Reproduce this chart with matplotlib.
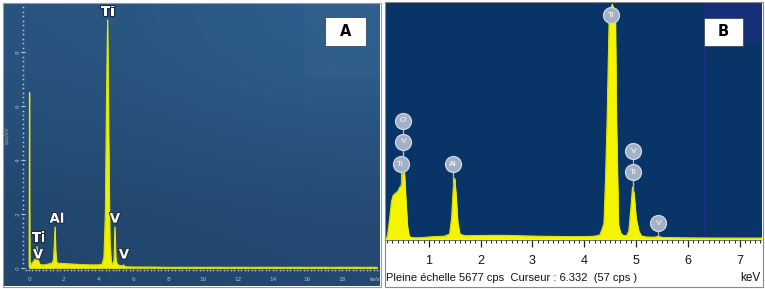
import numpy as np
import matplotlib
matplotlib.use('Agg')
import matplotlib.pyplot as plt
import matplotlib.patheffects as pe
from matplotlib.patches import Rectangle

# ---------------- data ----------------
# Panel A: EDS spectrum (keV, cps/eV x1000)
energy_a = [0.00, 0.02, 0.04, 0.06, 0.10, 0.20, 0.30, 0.38, 0.42, 0.45, 0.48, 0.52, 0.60, 0.70,
            0.90, 1.10, 1.30, 1.40, 1.45, 1.49, 1.53, 1.58, 1.70, 2.00, 2.50, 3.00, 3.50, 4.00,
            4.20, 4.30, 4.38, 4.45, 4.51, 4.57, 4.64, 4.72, 4.80, 4.88, 4.93, 4.98, 5.05, 5.20,
            5.38, 5.43, 5.48, 5.60, 6.00, 7.00, 8.00, 10.0, 12.0, 14.0, 16.0, 18.0, 20.0]
counts_a = [0.05, 6.5, 0.30, 0.10, 0.12, 0.20, 0.30, 0.35, 0.55, 0.80, 0.45, 0.30, 0.15, 0.12,
            0.12, 0.15, 0.18, 0.30, 0.90, 1.52, 0.60, 0.20, 0.18, 0.17, 0.15, 0.13, 0.12, 0.12,
            0.15, 0.40, 2.00, 6.50, 9.20, 5.00, 1.00, 0.20, 0.15, 0.30, 1.52, 0.40, 0.15, 0.10,
            0.08, 0.12, 0.06, 0.05, 0.04, 0.04, 0.03, 0.03, 0.03, 0.03, 0.03, 0.03, 0.03]
xticks_a = [0, 2, 4, 6, 8, 10, 12, 14, 16, 18]
yticks_a = [0, 2, 4, 6, 8]
labels_a_text = ['Ti', 'Al', 'V', 'Ti', 'V', 'V']
labels_a_x = [4.54, 1.61, 4.94, 0.57, 0.52, 5.46]
labels_a_y = [9.48, 1.81, 1.81, 1.11, 0.48, 0.48]

# Panel B: EDS spectrum (keV, cps)
energy_b = [0.17, 0.20, 0.24, 0.28, 0.31, 0.35, 0.40, 0.44, 0.47, 0.50, 0.53, 0.56, 0.59, 0.62,
            0.66, 0.75, 0.90, 1.10, 1.30, 1.40, 1.44, 1.47, 1.50, 1.53, 1.56, 1.60, 1.70, 1.90,
            2.20, 2.50, 2.80, 3.10, 3.40, 3.70, 4.00, 4.20, 4.30, 4.36, 4.38, 4.41, 4.44, 4.48,
            4.54, 4.60, 4.62, 4.66, 4.70, 4.76, 4.82, 4.86, 4.90, 4.93, 4.96, 5.00, 5.05, 5.10,
            5.20, 5.35, 5.43, 5.50, 5.70, 6.00, 6.30, 6.60, 7.00, 7.43]
counts_b = [30, 60, 450, 900, 1050, 1100, 1150, 1250, 1300, 1600, 1612, 900, 300, 80,
            40, 30, 40, 60, 70, 120, 500, 1200, 1467, 1000, 400, 120, 80, 85,
            90, 90, 80, 70, 65, 60, 60, 70, 100, 300, 400, 1500, 2900, 5400,
            5677, 5400, 2900, 350, 150, 80, 90, 200, 780, 1257, 1100, 500, 200, 80,
            50, 45, 70, 40, 35, 30, 28, 26, 25, 25]
xticks_b = [1, 2, 3, 4, 5, 6, 7]
labels_b_text = ['Ti', 'O', 'V', 'Ti', 'Al', 'V', 'Ti', 'V']
labels_b_x = [4.52, 0.51, 0.51, 0.46, 1.47, 4.95, 4.95, 5.43]
labels_b_y = [5410, 2850, 2343, 1811, 1811, 2125, 1618, 386]
cursor_b = 6.332
full_scale_b = 5677

# ---------------- figure ----------------
W, H = 765, 289
fig = plt.figure(figsize=(W / 100, H / 100), dpi=100)
fig.patch.set_facecolor('white')

def rect(x0, y0, x1, y1):
    return [x0 / W, 1 - y1 / H, (x1 - x0) / W, (y1 - y0) / H]

narrow = ['Liberation Sans Narrow', 'Liberation Sans', 'DejaVu Sans']

# ---------------- Panel A ----------------
axA = fig.add_axes(rect(4, 4, 380, 286))
xlA = (-1.437, 20.17)
ylA = (-0.667, 9.778)
grad = np.array([[[0.16, 0.33, 0.50], [0.18, 0.37, 0.55]],
                 [[0.13, 0.27, 0.42], [0.14, 0.28, 0.44]]])
axA.imshow(grad, extent=[xlA[0], xlA[1], ylA[0], ylA[1]], aspect='auto',
           interpolation='bicubic', zorder=0)
axA.set_xlim(*xlA)
axA.set_ylim(*ylA)
for s in axA.spines.values():
    s.set_visible(False)
axA.set_xticks([])
axA.set_yticks([])
# faint lighter block top-right
axA.add_patch(Rectangle((15.8, 7.03), 4.4, 2.8, color='white', alpha=0.018, lw=0, zorder=0.5))

axA.fill_between(energy_a, counts_a, 0, color='#f0f000', lw=0.5, zorder=3)
axA.plot(energy_a, counts_a, color='#e8e800', lw=0.6, zorder=3)

dot_col = '#b7c7da'
# dotted axes
ydots = np.arange(0, 9.75, 1 / 6)
axA.plot(np.full_like(ydots, -0.345), ydots, ls='none', marker='s', ms=1.1, color=dot_col,
         mew=0, zorder=4)
xdots = np.arange(-0.2, 20.01, 0.2)
axA.plot(xdots, np.full_like(xdots, -0.074), ls='none', marker='s', ms=1.1, color=dot_col,
         mew=0, zorder=4)
for t in xticks_a:
    axA.text(t, -0.44, str(t), ha='center', va='center', fontsize=4.2, color='#a9bdd4')
axA.text(19.9, -0.44, 'keV', ha='center', va='center', fontsize=4.2, color='#a9bdd4')
for t in yticks_a:
    axA.text(-0.63, t, str(t), ha='center', va='center', fontsize=4.2, color='#a9bdd4',
             rotation=90)
    axA.plot([-0.45, -0.25], [t, t], color=dot_col, lw=0.6, zorder=4)
axA.text(-1.26, 4.93, 'cps/eV', ha='center', va='center', fontsize=3.8, color='#8ea6c2',
         rotation=90)

for txt, x, y in zip(labels_a_text, labels_a_x, labels_a_y):
    axA.text(x, y, txt, ha='center', va='center', fontsize=9.5, fontweight='bold',
             color='white', zorder=6,
             path_effects=[pe.withStroke(linewidth=1.6, foreground='#1b2c44')])

fig.patches.append(Rectangle((325 / W, 1 - 46 / H), 41 / W, 29 / H, transform=fig.transFigure,
                             facecolor='white', edgecolor='#3a4a60', lw=0.6, zorder=10))
fig.text(345.5 / W, 1 - 31.5 / H, 'A', ha='center', va='center', fontsize=10.5,
         fontweight='bold', color='black', zorder=11)
fig.patches.append(Rectangle((3 / W, 1 - 287 / H), 378 / W, 284 / H, transform=fig.transFigure,
                             facecolor='none', edgecolor='#9a9a9a', lw=0.8, zorder=12))

# ---------------- Panel B ----------------
axB = fig.add_axes(rect(386, 3, 762, 239))
axB.set_facecolor('#093467')
xlB = (0.176, 7.43)
axB.set_xlim(*xlB)
axB.set_ylim(0, 5700)
for s in axB.spines.values():
    s.set_visible(False)
axB.set_xticks([])
axB.set_yticks([])
axB.add_patch(Rectangle((cursor_b, 4758), xlB[1] - cursor_b, 1000, color='#172f78', lw=0,
                        zorder=0.5))
axB.axvline(cursor_b, color='#1e2c86', lw=1.3, zorder=1)

axB.fill_between(energy_b, counts_b, 0, color='#f5f500', lw=0.5, zorder=3)
axB.plot(energy_b, counts_b, color='#f0f000', lw=0.6, zorder=3)

for x, y in zip(labels_b_x, labels_b_y):
    top = np.interp(x, energy_b, counts_b)
    axB.plot([x, x], [y, top], color='#aab6c8', lw=0.9, zorder=4)
for txt, x, y in zip(labels_b_text, labels_b_x, labels_b_y):
    axB.plot([x], [y], marker='o', ms=11.5, mfc='#a3b1c6', mec='#d0d8e4', mew=0.9, zorder=5,
             ls='none')
    axB.text(x, y, txt, ha='center', va='center', fontsize=6, color='white', zorder=6,
             family=narrow)

fig.patches.append(Rectangle((704 / W, 1 - 46 / H), 39 / W, 28 / H, transform=fig.transFigure,
                             facecolor='white', edgecolor='#3a4a60', lw=0.6, zorder=10))
fig.text(723.5 / W, 1 - 31.5 / H, 'B', ha='center', va='center', fontsize=10.5,
         fontweight='bold', color='black', zorder=11)

# bottom strip
axS = fig.add_axes(rect(386, 240, 762, 286))
axS.set_xlim(*xlB)
axS.set_ylim(0, 1)
for s in axS.spines.values():
    s.set_visible(False)
axS.set_yticks([])
axS.set_xticks(xticks_b)
axS.set_xticks(np.arange(0.2, 7.45, 0.1), minor=True)
axS.tick_params(axis='x', which='both', direction='in', top=True, bottom=False,
                labeltop=False, labelbottom=False, color='#222222')
axS.tick_params(axis='x', which='major', length=5, width=0.9)
axS.tick_params(axis='x', which='minor', length=2, width=0.7)
axS.plot([xlB[0], xlB[1]], [1, 1], color='#555555', lw=0.6, transform=axS.transData)
for t in xticks_b:
    axS.text(t, 0.55, str(t), ha='center', va='center', fontsize=9, color='#111111',
             family=narrow)
axS.text(0.0, 0.17, 'Pleine échelle %d cps  Curseur : %.3f  (57 cps )' % (full_scale_b, cursor_b),
         transform=axS.transAxes, ha='left', va='center', fontsize=8, color='#111111',
         family=narrow)
axS.text(0.997, 0.17, 'keV', transform=axS.transAxes, ha='right', va='center', fontsize=8.5,
         color='#111111', family=narrow)

fig.patches.append(Rectangle((385 / W, 1 - 287 / H), 378 / W, 285 / H, transform=fig.transFigure,
                             facecolor='none', edgecolor='#8a8a8a', lw=0.8, zorder=12))

fig.savefig('out.png', dpi=100, facecolor='white')
